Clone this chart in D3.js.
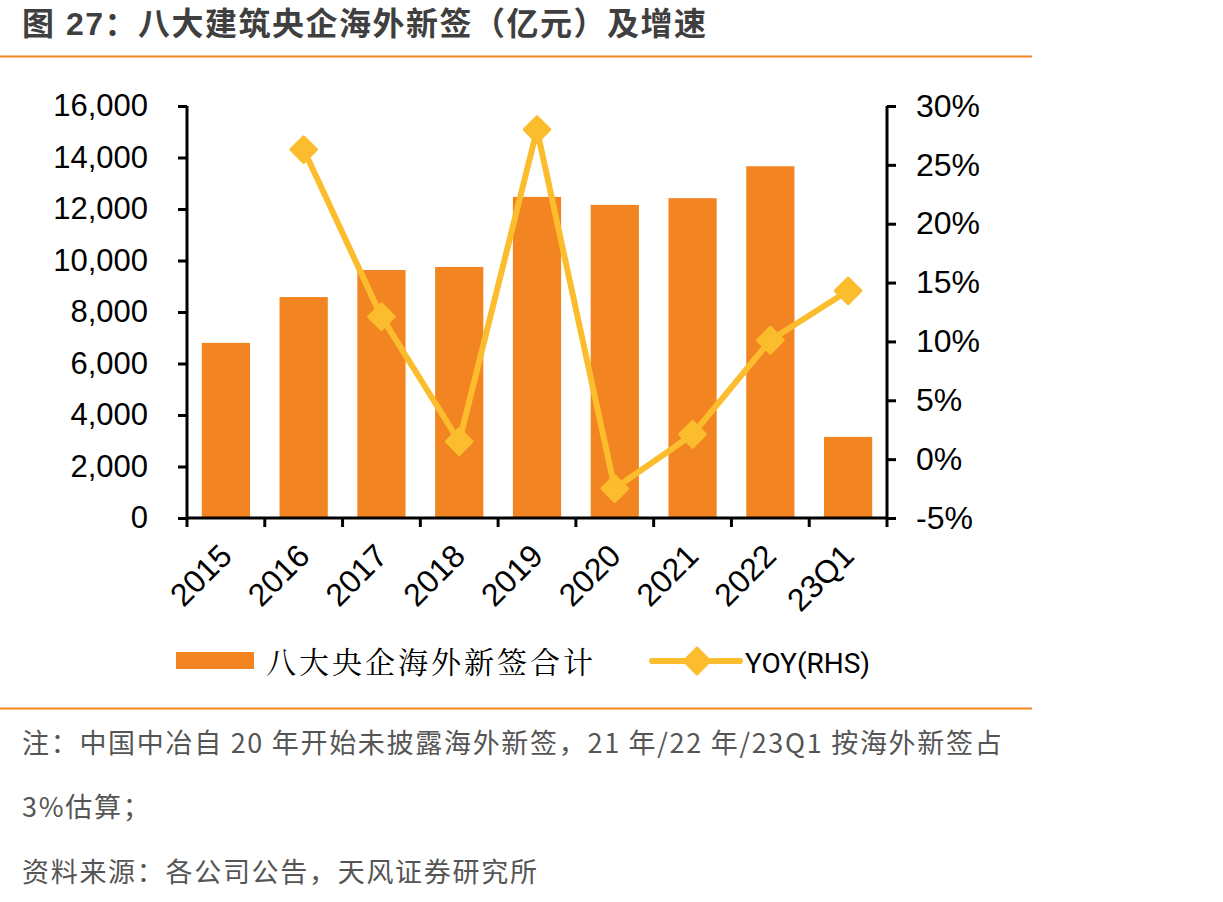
<!DOCTYPE html>
<html><head><meta charset="utf-8">
<script src="https://cdn.jsdelivr.net/npm/d3@7"></script>
<style>body{margin:0;background:#fff}svg{display:block}</style>
</head><body><svg id="c" width="1223" height="902"></svg>
<script>
const categories = ["2015","2016","2017","2018","2019","2020","2021","2022","23Q1"];
const signValues = [6800, 8580, 9630, 9750, 12470, 12160, 12420, 13660, 3150];
const yoyValues = [null, 26.3, 12.1, 1.5, 28.0, -2.5, 2.1, 10.1, 14.3];
const leftTicks = [0,2000,4000,6000,8000,10000,12000,14000,16000];
const rightTicks = [-5,0,5,10,15,20,25,30];
const title = "图 27：八大建筑央企海外新签（亿元）及增速";
const barName = "八大央企海外新签合计";
const lineName = "YOY(RHS)";
const notes = ["注：中国中冶自 20 年开始未披露海外新签，21 年/22 年/23Q1 按海外新签占","3%估算；","资料来源：各公司公告，天风证券研究所"];

const svg = d3.select("#c");
const orange = "#F28522", gold = "#FBBC2D";
const L = 187, R = 887, T = 106, B = 518;

svg.append("text").attr("x",22).attr("y",35).attr("font-family","Liberation Sans, Noto Sans CJK SC").attr("font-weight","bold").attr("font-size",32).attr("letter-spacing",1.5).attr("fill","#3f3f3f").text(title);
svg.append("line").attr("x1",0).attr("x2",1032).attr("y1",56.5).attr("y2",56.5).attr("stroke",orange).attr("stroke-width",2);
svg.append("line").attr("x1",0).attr("x2",1032).attr("y1",708.5).attr("y2",708.5).attr("stroke",orange).attr("stroke-width",2);

const x = d3.scaleBand().domain(categories).range([L,R]).paddingInner(0.38).paddingOuter(0.19);
const xb = d3.scaleBand().domain(categories).range([L,R]);
const yL = d3.scaleLinear().domain([0,16000]).range([B,T]);
const yR = d3.scaleLinear().domain([-5,30]).range([B,T]);

svg.append("g").selectAll("rect").data(categories).join("rect")
  .attr("x",d=>x(d)).attr("width",x.bandwidth())
  .attr("y",(d,i)=>yL(signValues[i])).attr("height",(d,i)=>B-yL(signValues[i]))
  .attr("fill",orange);

const font = "Liberation Sans, Arial, sans-serif";
const ga = svg.append("g").attr("transform",`translate(${L},0)`).call(d3.axisLeft(yL).tickValues(leftTicks).tickSize(9).tickPadding(30).tickFormat(d3.format(",")));
const gr = svg.append("g").attr("transform",`translate(${R},0)`).call(d3.axisRight(yR).tickValues(rightTicks).tickSize(9).tickPadding(20).tickFormat(d=>d+"%"));
const gx = svg.append("g").attr("transform",`translate(0,${B})`).call(d3.axisBottom(xb).tickSize(0).tickFormat(""));
svg.append("g").selectAll("line").data(d3.range(categories.length+1)).join("line")
  .attr("x1",i=>L+i*xb.step()).attr("x2",i=>L+i*xb.step()).attr("y1",B).attr("y2",B+9)
  .attr("stroke","#000").attr("stroke-width",3);
[ga,gr,gx].forEach(g=>{
  g.selectAll("path").attr("stroke","#000").attr("stroke-width",3);
  g.selectAll("line").attr("stroke","#000").attr("stroke-width",3);
  g.selectAll("text").attr("font-family",font).attr("font-size",31).attr("fill","#000");
});
gr.selectAll("text").attr("font-size",32);
ga.select("path").attr("d",`M0,${T}V${B}`);
gr.select("path").attr("d",`M0,${T}V${B}`);
gx.select("path").attr("d",`M${L},0H${R}`);

svg.append("g").selectAll("text").data(categories).join("text")
  .attr("transform",d=>`translate(${xb(d)+xb.bandwidth()/2-8},${B+24}) rotate(-45)`)
  .attr("text-anchor","end").attr("dy","0.7em")
  .attr("font-family",font).attr("font-size",32).attr("fill","#000").text(d=>d);

const pts = categories.map((c,i)=>({c,v:yoyValues[i]})).filter(d=>d.v!==null);
const cx = d=>x(d.c)+x.bandwidth()/2;
svg.append("path").datum(pts).attr("fill","none").attr("stroke",gold).attr("stroke-width",6).attr("stroke-linejoin","round")
  .attr("d",d3.line().x(cx).y(d=>yR(d.v)));
const diamond = d3.symbol().type(d3.symbolDiamond2).size(420);
svg.append("g").selectAll("path").data(pts).join("path")
  .attr("transform",d=>`translate(${cx(d)},${yR(d.v)})`)
  .attr("d",diamond).attr("fill",gold).attr("stroke",gold).attr("stroke-width",3).attr("stroke-linejoin","round");

svg.append("rect").attr("x",176).attr("y",652).attr("width",78).attr("height",17).attr("fill",orange);
svg.append("text").attr("x",266).attr("y",673).attr("font-family","Noto Serif CJK SC, Noto Sans CJK SC").attr("font-size",30).attr("letter-spacing",3).attr("fill","#000").text(barName);
svg.append("line").attr("x1",652).attr("x2",740).attr("y1",661).attr("y2",661).attr("stroke",gold).attr("stroke-width",6).attr("stroke-linecap","round");
svg.append("path").attr("transform","translate(697,661)").attr("d",diamond).attr("fill",gold).attr("stroke",gold).attr("stroke-width",3).attr("stroke-linejoin","round");
svg.append("text").attr("x",745).attr("y",673).attr("font-family","Roboto, Liberation Sans Narrow, sans-serif").attr("font-size",28).attr("fill","#000").text(lineName);

const ny = [753, 817, 882];
svg.append("g").selectAll("text").data(notes).join("text")
  .attr("x",22).attr("y",(d,i)=>ny[i]).attr("font-family","Noto Sans CJK SC, sans-serif").attr("font-size",27).attr("letter-spacing",1.7).attr("fill","#555").text(d=>d);
</script></body></html>
